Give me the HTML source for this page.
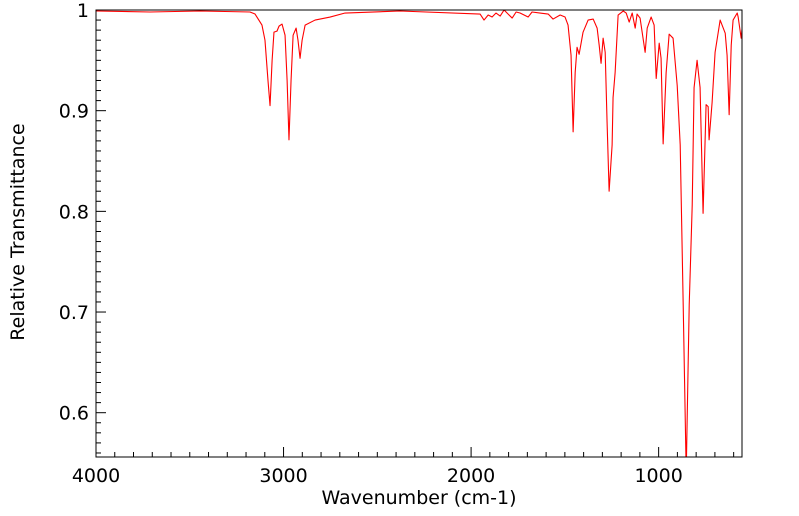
<!DOCTYPE html>
<html><head><meta charset="utf-8"><style>
html,body{margin:0;padding:0;background:#fff;width:799px;height:516px;overflow:hidden}
svg{display:block;font-family:"DejaVu Sans",sans-serif}
</style></head><body>
<svg id="chart" width="799" height="516" viewBox="0 0 799 516" xmlns="http://www.w3.org/2000/svg">
<defs><clipPath id="clip"><rect x="96" y="10" width="646" height="447"/></clipPath></defs>
<path id="series" clip-path="url(#clip)" fill="none" stroke="#ff0000" stroke-width="1.1" stroke-linejoin="round"/>
<rect x="96" y="10" width="646" height="447" fill="none" stroke="#000" stroke-width="1"/>
<g id="axes"></g>
<text x="419" y="504" font-size="19" text-anchor="middle">Wavenumber (cm-1)</text>
<text transform="translate(24,232) rotate(-90)" font-size="19" text-anchor="middle">Relative Transmittance</text>
</svg>
<script>
const wavenumbers=[4000,3712,3445,3179,3152,3115,3099,3083,3072,3061,3051,3035,3024,3008,2992,2981,2971,2960,2949,2933,2923,2912,2901,2885,2832,2752,2672,2379,1952,1931,1909,1888,1867,1845,1824,1803,1781,1760,1739,1696,1675,1632,1589,1563,1525,1499,1483,1467,1456,1445,1435,1424,1403,1376,1349,1328,1317,1307,1296,1285,1275,1264,1248,1243,1232,1216,1189,1173,1157,1141,1125,1115,1099,1072,1061,1040,1024,1013,997,987,976,960,944,923,901,885,869,853,837,821,811,795,779,763,747,736,731,715,699,672,645,635,624,613,603,581,576,560,549];
const transmittance=[0.999,0.998,0.999,0.998,0.996,0.985,0.970,0.930,0.905,0.950,0.978,0.979,0.984,0.986,0.975,0.930,0.871,0.930,0.975,0.982,0.970,0.952,0.970,0.985,0.990,0.993,0.997,0.999,0.996,0.990,0.995,0.993,0.997,0.994,1.000,0.996,0.992,0.998,0.997,0.993,0.998,0.997,0.996,0.991,0.995,0.993,0.985,0.955,0.879,0.938,0.963,0.956,0.978,0.990,0.991,0.982,0.965,0.947,0.972,0.958,0.889,0.820,0.866,0.913,0.938,0.995,0.999,0.997,0.988,0.997,0.982,0.996,0.992,0.958,0.982,0.993,0.985,0.932,0.967,0.952,0.867,0.938,0.976,0.972,0.925,0.866,0.707,0.540,0.707,0.806,0.923,0.950,0.923,0.798,0.906,0.904,0.871,0.908,0.958,0.990,0.977,0.955,0.896,0.965,0.990,0.997,0.993,0.972,0.993];
const xTicks=[4000,3000,2000,1000];
const yTicks=[0.6,0.7,0.8,0.9,1];
const yTickLabels=["0.6","0.7","0.8","0.9","1"];
const L=96,R=742,T=10,B=457,XMAX=4000,XMIN=555.5,YMAX=1,YMIN=0.556;
const X=w=>L+(XMAX-w)/(XMAX-XMIN)*(R-L);
const Y=v=>T+(YMAX-v)/(YMAX-YMIN)*(B-T);
const NS="http://www.w3.org/2000/svg";
let d="";
for(let i=0;i<wavenumbers.length;i++){d+=(i?"L":"M")+X(wavenumbers[i]).toFixed(2)+","+Y(transmittance[i]).toFixed(2);}
document.getElementById('series').setAttribute('d',d);
const ax=document.getElementById('axes');
function line(x1,y1,x2,y2,name){const l=document.createElementNS(NS,'line');
l.setAttribute('x1',x1);l.setAttribute('y1',y1);l.setAttribute('x2',x2);l.setAttribute('y2',y2);
l.setAttribute('stroke','#000');l.setAttribute('stroke-width','1');


ax.appendChild(l);}
function text(x,y,s,anchor,name){const t=document.createElementNS(NS,'text');
t.setAttribute('x',x);t.setAttribute('y',y);t.setAttribute('font-size','19');t.setAttribute('text-anchor',anchor);t.textContent=s;


ax.appendChild(t);}
for(let w=4000;w>=600;w-=100){const x=X(w);const major=w%1000===0;line(x,B,x,B-(major?10:5),major?'x-major-tick':'x-minor-tick');}
xTicks.forEach(w=>text(X(w),482,String(w),'middle','x-tick-label'));
for(let k=56;k<=100;k++){const v=k/100;const y=Y(v);const major=k%10===0;line(L,y,L+(major?10:5),y,major?'y-major-tick':'y-minor-tick');}
yTicks.forEach((v,i)=>text(L-7,Y(v)+7,yTickLabels[i],'end','y-tick-label'));
</script>
</body></html>
